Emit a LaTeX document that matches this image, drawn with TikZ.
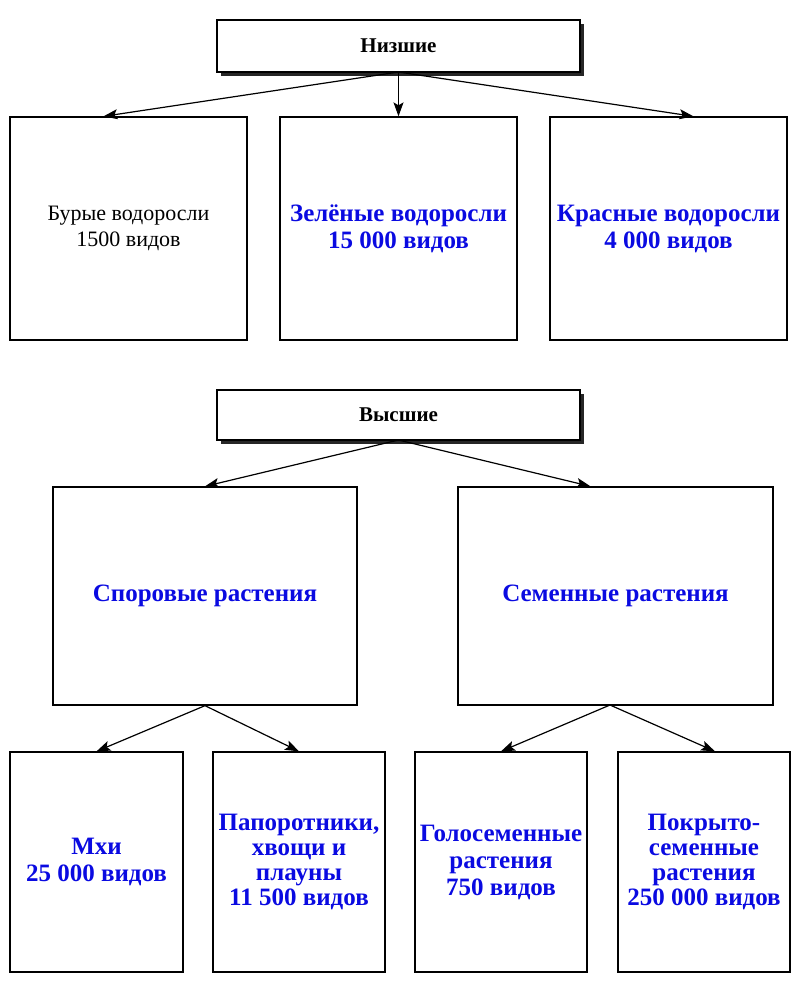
\documentclass[tikz,border=0pt]{standalone}
\usepackage{fontspec}
\setmainfont{Liberation Serif}
\usetikzlibrary{arrows.meta}
\definecolor{tb}{RGB}{10,10,225}
\begin{document}
\begin{tikzpicture}[x=1pt,y=-1pt,
 box/.style={draw,line width=1.3pt,align=center,inner sep=0pt},
 hdr/.style={draw,line width=1.4pt,fill=white,align=center,font=\bfseries\fontsize{21}{24}\selectfont},
 bt/.style={text=tb,font=\bfseries\fontsize{25}{27}\selectfont},
 arr/.style={line width=1.2pt,arrows={-Stealth[length=14pt,width=10pt,inset=3pt]}}]
\useasboundingbox (0,0) rectangle (800,983);
\fill[black!85] (221,24) rectangle (584,76);
\node[hdr,minimum width=363pt,minimum height=52pt] (n) at (398.5,46) {Низшие};
\node[box,minimum width=237pt,minimum height=223pt,font=\fontsize{22}{26}\selectfont] (b1) at (128.5,228.5) {Бурые водоросли\\1500 видов};
\node[box,bt,minimum width=237pt,minimum height=223pt] (b2) at (398.5,228.5) {Зелёные водоросли\\15 000 видов};
\node[box,bt,minimum width=237pt,minimum height=223pt] (b3) at (668.5,228.5) {Красные водоросли\\4 000 видов};
\coordinate (ns) at (398.5,72);
\draw[arr] (ns) -- ([xshift=-25pt]b1.north);
\draw[arr] (ns) -- (b2.north);
\draw[arr] (ns) -- ([xshift=25pt]b3.north);
\fill[black!85] (221,394) rectangle (584,444);
\node[hdr,minimum width=363pt,minimum height=50pt] (v) at (398.5,415) {Высшие};
\node[box,bt,minimum width=304pt,minimum height=218pt] (s) at (205,596) {Споровые растения};
\node[box,bt,minimum width=315pt,minimum height=218pt] (c) at (615.5,596) {Семенные растения};
\coordinate (vs) at (398.5,440);
\draw[arr] (vs) -- (s.north);
\draw[arr] (vs) -- ([xshift=-25pt]c.north);
\node[box,bt,minimum width=173pt,minimum height=220pt] (m1) at (96.5,862) {Мхи\\25 000 видов};
\node[box,bt,minimum width=172pt,minimum height=220pt,font=\bfseries\fontsize{25}{25}\selectfont] (m2) at (299,862) {Папоротники,\\хвощи и\\плауны\\11 500 видов};
\node[box,bt,minimum width=172pt,minimum height=220pt] (m3) at (501,862) {Голосеменные\\растения\\750 видов};
\node[box,bt,minimum width=172pt,minimum height=220pt,font=\bfseries\fontsize{25}{25}\selectfont] (m4) at (704,862) {Покрыто-\\семенные\\растения\\250 000 видов};
\draw[arr] (s.south) -- (m1.north);
\draw[arr] (s.south) -- (m2.north);
\coordinate (cs) at (610,705);
\draw[arr] (cs) -- (m3.north);
\draw[arr] (cs) -- ([xshift=11pt]m4.north);
\end{tikzpicture}
\end{document}
